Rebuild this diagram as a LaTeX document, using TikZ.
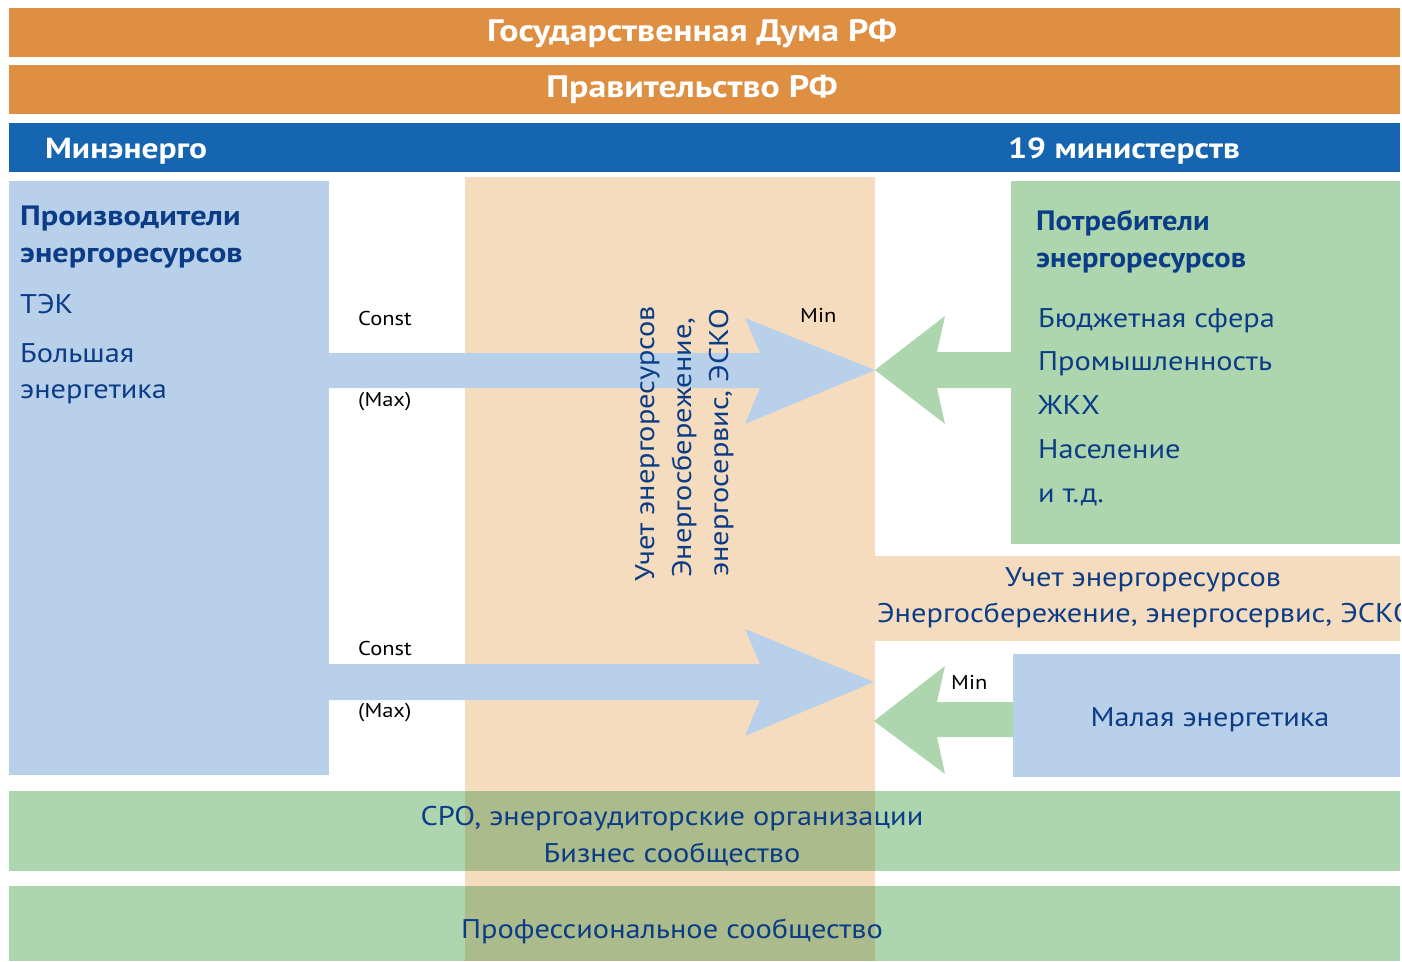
\documentclass[tikz,border=0pt]{standalone}
\usepackage{fontspec}
\setmainfont{PT Sans}[FakeStretch=1.125]
\newfontfamily\hdrfont{PT Sans}[FakeStretch=1.155]
\newfontfamily\ttlrfont{PT Sans}[FakeStretch=1.09]
\definecolor{orangebar}{HTML}{DE8F41}
\definecolor{bluebar}{HTML}{1565B0}
\definecolor{lightblue}{HTML}{B9D0EB}
\definecolor{peach}{HTML}{F5DCBE}
\definecolor{lightgreen}{HTML}{ADD6AE}
\definecolor{overlapc}{HTML}{ABBB8B}
\definecolor{txtblue}{HTML}{0B3C86}
\begin{document}
\begin{tikzpicture}[x=1pt,y=-1pt,
  txt/.style={inner sep=0pt,anchor=base west,text=txtblue,font=\fontsize{27}{32}\selectfont},
  ttl/.style={inner sep=0pt,anchor=base west,text=txtblue,font=\hdrfont\fontsize{28}{32}\selectfont\bfseries},
  ttlr/.style={inner sep=0pt,anchor=base west,text=txtblue,font=\ttlrfont\fontsize{28}{32}\selectfont\bfseries},
  hdr/.style={inner sep=0pt,anchor=base,text=white,font=\hdrfont\fontsize{31}{36}\selectfont\bfseries},
  small/.style={inner sep=0pt,anchor=base west,text=black,font=\fontsize{20}{24}\selectfont},
  vtxt/.style={inner sep=0pt,anchor=base west,rotate=90,text=txtblue,font=\fontsize{27}{32}\selectfont}]
\useasboundingbox (0,0) rectangle (1402,961);
% bars
\fill[orangebar] (9,8) rectangle (1400,57);
\fill[orangebar] (9,65) rectangle (1400,114);
\fill[bluebar] (9,123) rectangle (1400,172);
% peach column and band
\fill[peach] (465,177) rectangle (875,961);
\fill[peach] (875,556) rectangle (1400,641);
% boxes
\fill[lightblue] (9,181) rectangle (329,775);
\fill[lightgreen] (1011,181) rectangle (1400,544);
\fill[lightblue] (1013,654) rectangle (1400,777);
% arrows
\fill[lightblue] (329,353) -- (760,353) -- (745,318) -- (875,370) -- (745,424) -- (760,388) -- (329,388) -- cycle;
\fill[lightblue] (329,664) -- (760,664) -- (745,629) -- (874,682) -- (745,736) -- (760,700) -- (329,700) -- cycle;
\fill[lightgreen] (1011,352) -- (937,352) -- (945,316) -- (875,370) -- (945,424) -- (937,388) -- (1011,388) -- cycle;
\fill[lightgreen] (1013,702) -- (937,702) -- (945,666) -- (874,721) -- (945,774) -- (937,737) -- (1013,737) -- cycle;
% bottom bands
\fill[lightgreen] (9,791) rectangle (1400,871);
\fill[lightgreen] (9,886) rectangle (1400,961);
\fill[overlapc] (465,791) rectangle (875,871);
\fill[overlapc] (465,886) rectangle (875,961);
% header texts
\node[hdr] (duma) at (692,41) {Государственная Дума РФ};
\node[hdr] (gov) at (692,97) {Правительство РФ};
\node[hdr,anchor=base west,font=\hdrfont\fontsize{29}{34}\selectfont\bfseries] (mine) at (45,158) {Минэнерго};
\node[hdr,anchor=base west,font=\hdrfont\fontsize{29}{34}\selectfont\bfseries] (min19) at (1008,158) {19 министерств};
% producers
\node[ttl] (p1) at (20,225) {Производители};
\node[ttl] (p2) at (20,262) {энергоресурсов};
\node[txt] (p3) at (20,313) {ТЭК};
\node[txt] (p4) at (20,362) {Большая};
\node[txt] (p5) at (20,398) {энергетика};
% consumers
\node[ttlr] (c1) at (1036,230) {Потребители};
\node[ttlr] (c2) at (1036,267) {энергоресурсов};
\node[txt] (c3) at (1038,327) {Бюджетная сфера};
\node[txt] (c4) at (1038,370) {Промышленность};
\node[txt] (c5) at (1038,414) {ЖКХ};
\node[txt] (c6) at (1038,458) {Население};
\node[txt] (c7) at (1038,502) {и т.д.};
% small labels
\node[small] (k1) at (358,325) {Const};
\node[small] (m1) at (358,406) {(Max)};
\node[small] (k2) at (358,655) {Const};
\node[small] (m2) at (358,717) {(Max)};
\node[small] (n1) at (800,322) {Min};
\node[small] (n2) at (951,689) {Min};
% vertical text
\node[vtxt] (v1) at (654,582) {Учет энергоресурсов};
\node[vtxt] (v2) at (691,578) {Энергосбережение,};
\node[vtxt] (v3) at (728,577) {энергосервис, ЭСКО};
% band text
\begin{scope}
\clip (875,556) rectangle (1400,641);
\node[txt,anchor=base] (b1) at (1143,586) {Учет энергоресурсов};
\node[txt] (b2) at (877,622) {Энергосбережение, энергосервис, ЭСКО};
\end{scope}
\node[txt,anchor=base] (small) at (1210,726) {Малая энергетика};
% bottom texts
\node[txt,anchor=base] (s1) at (672,825) {СРО, энергоаудиторские организации};
\node[txt,anchor=base] (s2) at (672,862) {Бизнес сообщество};
\node[txt,anchor=base] (s3) at (672,938) {Профессиональное сообщество};
\end{tikzpicture}
\end{document}
